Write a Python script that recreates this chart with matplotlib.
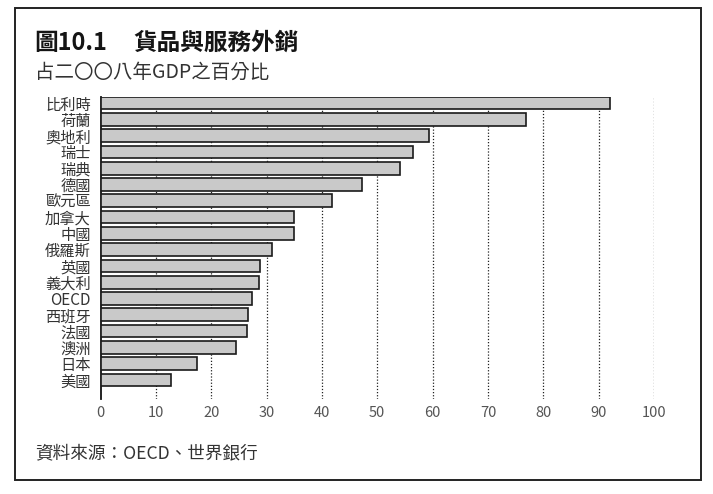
import matplotlib
matplotlib.use("Agg")
import matplotlib.pyplot as plt
from matplotlib.patches import Rectangle

plt.rcParams['font.family'] = ['Noto Sans CJK TC', 'DejaVu Sans']

# exports of goods and services, % of GDP, 2008
countries = ['比利時', '荷蘭', '奧地利', '瑞士', '瑞典', '德國', '歐元區',
             '加拿大', '中國', '俄羅斯', '英國', '義大利', 'OECD', '西班牙',
             '法國', '澳洲', '日本', '美國']
values = [92.1, 76.9, 59.3, 56.4, 54.2, 47.2, 41.9, 35.0, 34.9, 31.0,
          28.8, 28.7, 27.4, 26.6, 26.4, 24.4, 17.4, 12.7]
xticks = [0, 10, 20, 30, 40, 50, 60, 70, 80, 90, 100]

title_num = '圖10.1'
title_text = '貨品與服務外銷'
subtitle = '占二〇〇八年GDP之百分比'
source = '資料來源：OECD、世界銀行'

W, H = 713, 494
fig = plt.figure(figsize=(W / 100, H / 100), dpi=100)

# outer frame
fig.patches.append(Rectangle((15 / W, 1 - 480 / H), 686 / W, 472 / H,
                             transform=fig.transFigure, fill=False,
                             edgecolor='#222222', linewidth=1.4))

fig.text(34 / W, 1 - 43 / H, title_num, fontsize=17, fontweight='bold',
         va='center', ha='left', color='#151515')
fig.text(133 / W, 1 - 43 / H, title_text, fontsize=17, fontweight='bold',
         va='center', ha='left', color='#151515')
fig.text(35 / W, 1 - 72 / H, subtitle, fontsize=14, va='center',
         ha='left', color='#333333')
fig.text(35 / W, 1 - 453 / H, source, fontsize=12.7, va='center',
         ha='left', color='#333333')

ax = fig.add_axes([100.5 / W, 1 - 399 / H, 553.5 / W, 302.3 / H])
bar_h = 0.78
ax.barh(range(len(countries)), values, height=bar_h, color='#c9c9c9',
        edgecolor='#1a1a1a', linewidth=1.2, zorder=3)

ax.set_xlim(0, 100)
ax.set_ylim(len(countries) - 1 + 1.17, -bar_h / 2)
ax.set_xticks(xticks)
ax.set_yticks(range(len(countries)))
ax.set_yticklabels(countries, fontsize=11, color='#333333')
ax.tick_params(axis='x', length=0, pad=5, labelsize=10.5, labelcolor='#555555')
ax.tick_params(axis='y', length=0, pad=7)

# dotted guide lines behind the bars
ax.vlines(xticks[1:], *ax.get_ylim(), colors='#222222',
          linestyles=(0, (1, 1.5)), linewidth=0.9, zorder=1)

for s in ['top', 'right', 'bottom']:
    ax.spines[s].set_visible(False)
ax.spines['left'].set_color('#111111')
ax.spines['left'].set_linewidth(1.3)

plt.savefig('out.png', dpi=100)
